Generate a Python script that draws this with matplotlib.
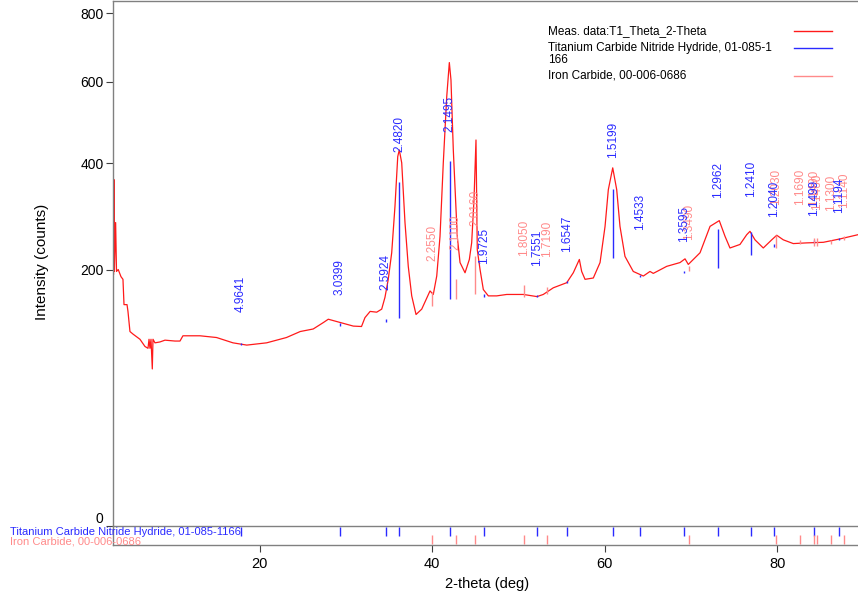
import numpy as np
import matplotlib
matplotlib.use("Agg")
import matplotlib.pyplot as plt
import matplotlib.transforms as mtransforms

plt.rcParams['font.family'] = ['Liberation Sans', 'DejaVu Sans']

# ---------------- data ----------------
two_theta = [3.0, 3.05, 3.1, 3.15, 3.3, 3.4, 3.6, 3.92, 4.15, 4.27, 4.62, 4.73, 4.96, 5.31,
             6.12, 6.7, 7.05, 7.17, 7.28, 7.4, 7.55, 7.63, 7.86, 8.44, 9.02, 10.18, 10.76,
             11.1, 13.08, 15.0, 16.9, 18.5, 20.8, 23.1, 24.7, 26.2, 27.4, 27.95, 29.3,
             30.85, 31.8, 32.2, 32.8, 33.56, 34.14, 34.52, 34.9, 35.3, 35.68, 36.0, 36.18,
             36.46, 36.84, 37.22, 37.62, 38.12, 38.78, 39.74, 40.12, 40.52, 40.9, 41.28,
             41.68, 41.98, 42.17, 42.44, 42.9, 43.22, 43.8, 44.3, 44.57, 44.84, 45.07,
             45.22, 45.54, 45.92, 46.5, 47.47, 48.63, 50.56, 52.14, 52.87, 54.03, 55.59,
             56.35, 57.05, 57.32, 57.71, 58.67, 59.45, 60.03, 60.41, 60.92, 61.38, 61.76,
             62.34, 63.3, 64.47, 65.24, 65.62, 67.18, 68.72, 69.3, 69.68, 71.04, 72.2,
             73.27, 73.94, 74.51, 75.67, 76.45, 76.83, 77.41, 78.37, 79.35, 79.93, 80.69,
             81.85, 83.4, 85.33, 87.27, 89.35]
counts = [382, 192, 365, 197, 280, 197, 200, 189, 185, 149, 149, 140, 115, 112,
          106, 98, 96, 106, 96, 106, 75, 106, 102, 103, 105, 104, 104,
          110, 110, 108, 102, 99.5, 102, 108, 115, 118, 126, 130, 126,
          121.5, 121, 132, 140, 139, 143, 159, 185, 227, 311, 415, 430,
          401, 280, 205, 161, 136, 143, 168, 163, 190, 255, 401,
          561, 653, 605, 430, 255, 211, 195, 216, 244, 324, 453,
          232, 200, 170, 161, 161, 163, 163, 160, 163, 172.5, 180,
          195, 216, 197, 185, 187, 211, 273, 344, 390, 344, 273,
          221, 197, 190, 197, 194, 205, 211, 217, 208, 227, 273,
          283.5, 255, 235, 241, 258, 264, 249, 235, 249, 257, 249,
          242.5, 243.7, 244.7, 250.6, 258]

# Titanium Carbide Nitride Hydride, 01-085-1166
ti_pos = [17.85, 29.31, 34.6, 36.15, 42.0, 46.0, 52.1, 55.6, 61.0, 64.08, 69.18,
          73.09, 76.9, 79.65, 84.3, 87.15]
ti_base = [100, 122, 127, 132, 156, 160, 159, 180, 219, 189, 195, 203, 224, 237, 244, 249]
ti_top = [102, 125, 130, 360, 406, 163, 162, 183, 346, 192, 198, 269, 263, 241, 248, 253]
ti_label_at = [139, 162, 170, 426, 473, 208, 206, 229, 412, 267, 246, 327, 330, 290, 293, 297]
ti_labels = ['4.9641', '3.0399', '2.5924', '2.4820', '2.1495', '1.9725', '1.7551', '1.6547',
             '1.5199', '1.4533', '1.3595', '1.2962', '1.2410', '1.2040', '1.1499', '1.1194']

# Iron Carbide, 00-006-0686
fe_pos = [40.0, 42.72, 44.96, 50.64, 53.3, 69.8, 79.85, 82.63, 84.29, 84.64, 86.19, 87.73]
fe_base = [147, 156, 163, 159, 163, 197, 235, 241, 239, 239, 242, 249]
fe_top = [166, 185, 221, 177, 174, 206, 257, 249, 253, 253, 249, 255]
fe_label_at = [213, 232, 273, 221, 220, 249, 314, 314, 312, 304, 301, 308]
fe_labels = ['2.2550', '2.1100', '2.0160', '1.8050', '1.7190', '1.3490', '1.2030', '1.1690',
             '1.1490', '1.1460', '1.1300', '1.1140']

y_ticks = [0, 200, 400, 600, 800]
x_ticks = [20, 40, 60, 80]

legend_names = ['Meas. data:T1_Theta_2-Theta',
                'Titanium Carbide Nitride Hydride, 01-085-1',
                'Iron Carbide, 00-006-0686']
strip_names = ['Titanium Carbide Nitride Hydride, 01-085-1166', 'Iron Carbide, 00-006-0686']

# ---------------- style ----------------
RED = '#ff1a1a'
BLUE = '#2a2aff'
PINK = '#ff8a8a'
SPINE = '#808080'

W, H = 858, 598
fig = plt.figure(figsize=(W / 100, H / 100), dpi=100)
left = 112.7 / W
ax = fig.add_axes([left, 1 - 526 / H, 1 - left, 525 / H])
ax2 = fig.add_axes([left, 1 - 545 / H, 1 - left, 19 / H])

xlim = (2.96, 89.35)

ax.set_yscale('function', functions=(lambda v: np.sqrt(np.clip(v, 0, None)), np.square))
ax.plot(two_theta, counts, color=RED, lw=0.9)
ax.vlines(ti_pos, ti_base, ti_top, color=BLUE, lw=1.0)
ax.vlines(fe_pos, fe_base, fe_top, color=PINK, lw=1.0)
for p, lv, t in zip(fe_pos, fe_label_at, fe_labels):
    ax.text(p, lv, t, rotation=90, ha='center', va='bottom', color=PINK, fontsize=8.5)
for p, lv, t in zip(ti_pos, ti_label_at, ti_labels):
    ax.text(p, lv, t, rotation=90, ha='center', va='bottom', color=BLUE, fontsize=8.5)

ax.set_xlim(*xlim)
ax.set_ylim(0, 838)
ax.set_yticks(y_ticks)
ax.set_yticklabels([str(v) for v in y_ticks])
ax.set_xticks([])
ax.tick_params(axis='y', direction='out', length=5, width=0.8, pad=1.5, labelsize=10,
               color='#404040')
# the "0" label sits just above the baseline in the reference
zero_lbl = ax.get_yticklabels()[0]
zero_lbl.set_transform(zero_lbl.get_transform() +
                       mtransforms.ScaledTranslation(0, 6 / 72, fig.dpi_scale_trans))
for s in ['left', 'top', 'bottom']:
    ax.spines[s].set_color(SPINE)
    ax.spines[s].set_linewidth(1.0)
ax.spines['right'].set_visible(False)

# legend (manual, handles right aligned)
rows_y = [0.9434, 0.9099, 0.8579]
colors = [RED, BLUE, PINK]
for yy, name, c in zip(rows_y, legend_names, colors):
    ax.text(0.584, yy, name, transform=ax.transAxes, ha='left', va='center', fontsize=8.5)
    ax.plot([0.914, 0.965], [yy, yy], transform=ax.transAxes, color=c, lw=1.0)
ax.text(0.584, rows_y[1] - 11.7 / 525, '166', transform=ax.transAxes, ha='left',
        va='center', fontsize=8.5)

# stick strip
ax2.vlines(ti_pos, 0.49, 0.93, color=BLUE, lw=1.0)
ax2.vlines(fe_pos, 0.04, 0.53, color=PINK, lw=1.0)
ax2.set_xlim(*xlim)
ax2.set_ylim(0, 1)
ax2.set_yticks([])
ax2.set_xticks(x_ticks)
ax2.set_xticklabels([str(v) for v in x_ticks])
ax2.tick_params(axis='x', direction='out', length=5, width=0.8, pad=4, labelsize=10.5,
                color='#404040')
for s in ['left', 'bottom']:
    ax2.spines[s].set_color(SPINE)
    ax2.spines[s].set_linewidth(1.0)
ax2.spines['top'].set_visible(False)
ax2.spines['right'].set_visible(False)
ax2.patch.set_alpha(0)

fig.text(10 / W, 1 - 531.7 / H, strip_names[0], color=BLUE, fontsize=8, ha='left', va='center')
fig.text(10 / W, 1 - 541 / H, strip_names[1], color=PINK, fontsize=8, ha='left', va='center')

fig.text(42 / W, 1 - 262 / H, 'Intensity (counts)', rotation=90, ha='center', va='center',
         fontsize=11)
fig.text(487 / W, 1 - 584 / H, '2-theta (deg)', ha='center', va='center', fontsize=10.5)

fig.savefig('out.png', dpi=100)
